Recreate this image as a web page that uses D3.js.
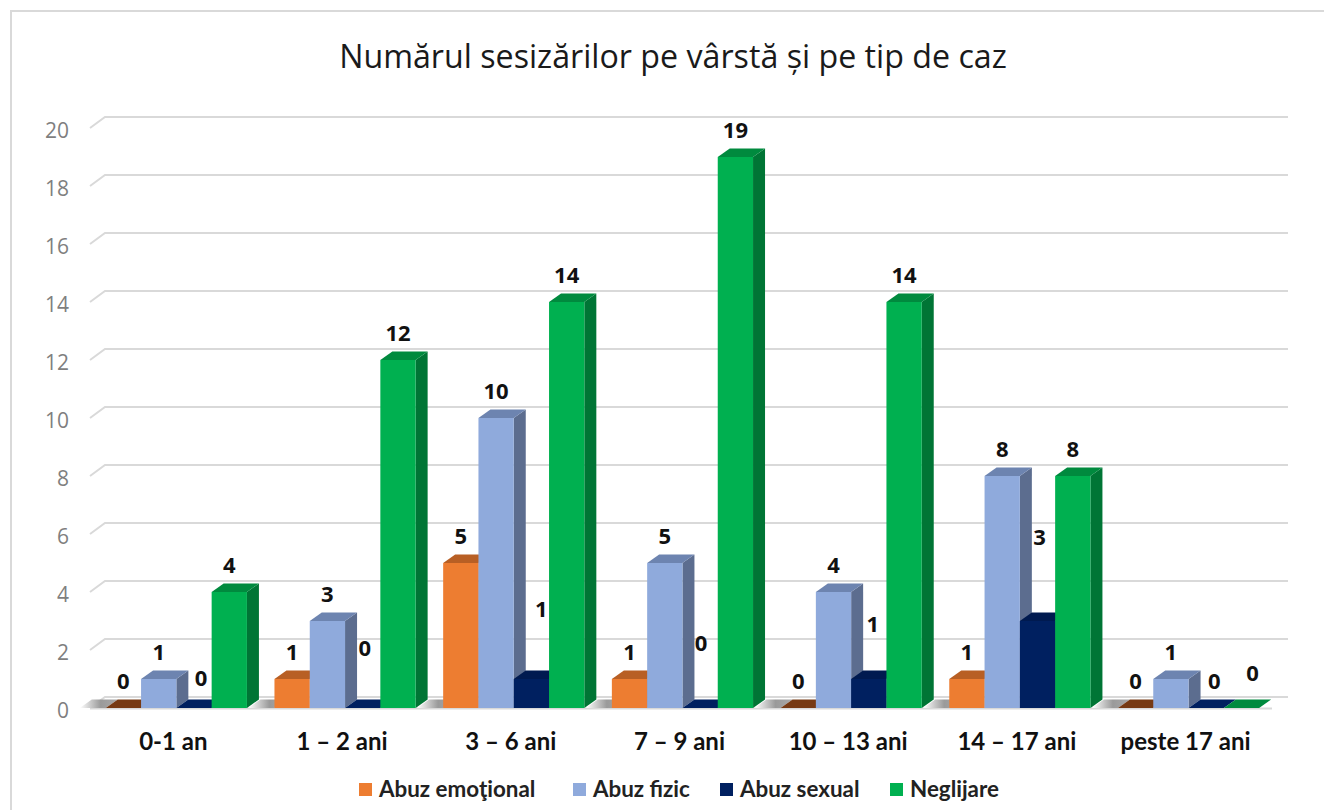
<!DOCTYPE html>
<html>
<head>
<meta charset="utf-8">
<script src="https://cdn.jsdelivr.net/npm/d3@7"></script>
<style>
  body { margin: 0; background: #fff; }
  svg { display: block; }
</style>
</head>
<body>
<div id="chart"></div>
<script>
// data
var categories = ["0-1 an", "1 – 2 ani", "3 – 6 ani", "7 – 9 ani", "10 – 13 ani", "14 – 17 ani", "peste 17 ani"];
var seriesNames = ["Abuz emoţional", "Abuz fizic", "Abuz sexual", "Neglijare"];
var abuzEmotional = [0, 1, 5, 1, 0, 1, 0];
var abuzFizic = [1, 3, 10, 5, 4, 8, 1];
var abuzSexual = [0, 0, 1, 0, 1, 3, 0];
var neglijare = [4, 12, 14, 19, 14, 8, 0];
var seriesValues = [abuzEmotional, abuzFizic, abuzSexual, neglijare];
var yTicks = [0, 2, 4, 6, 8, 10, 12, 14, 16, 18, 20];

// bar faces, per series
var frontColors = ["#ed7d31", "#8faadc", "#002060", "#00b050"];
var topColors = ["#b85f24", "#6d84b0", "#001a50", "#008a3e"];
var sideColors = ["#b05a1f", "#5c6d8f", "#00154a", "#007535"];
var zeroColors = ["#773a14", "#6d84b0", "#002060", "#008a3e"];

// the labels were moved by hand in the original: [dx, dy] from the default spot
var labelShift = {
  "0-2": [7, -3], "1-2": [2, -33], "2-2": [10, -43], "3-2": [1, -38],
  "4-2": [4, -28], "5-2": [2, -57], "6-2": [8, 0], "6-3": [11, -8]
};

var svgWidth = 1324;
var svgHeight = 810;
var depthX = 12;
var depthY = 8.5;
var wallX = 15;
var wallY = 11;

var svg = d3.select("#chart")
  .append("svg")
  .attr("width", svgWidth)
  .attr("height", svgHeight);

// frame, open on the right and at the bottom
svg.append("path")
  .attr("d", "M11,810V11H1324")
  .attr("fill", "none")
  .attr("stroke", "#d9d9d9")
  .attr("stroke-width", 2);

svg.append("text")
  .attr("x", 673)
  .attr("y", 68)
  .attr("text-anchor", "middle")
  .attr("font-family", "Open Sans")
  .attr("font-size", 32.2)
  .attr("fill", "#1a1a1a")
  .text("Numărul sesizărilor pe vârstă și pe tip de caz");

// scales
var xScale = d3.scaleBand().domain(categories).range([92, 1272.9]);
var xInner = d3.scaleBand()
  .domain(d3.range(seriesNames.length))
  .range([0, xScale.bandwidth()])
  .paddingOuter(0.39);
var yScale = d3.scaleLinear().domain([0, 20]).range([708, 128]);

// wall grid: slanted stub on the left, then straight to the back
svg.append("g").selectAll("path")
  .data(yTicks)
  .enter()
  .append("path")
  .attr("d", d => `M90,${yScale(d)}L${90 + wallX},${yScale(d) - wallY}H1288`)
  .attr("fill", "none")
  .attr("stroke", "#d9d9d9")
  .attr("stroke-width", 2);

svg.append("line")
  .attr("x1", 90)
  .attr("x2", 1272)
  .attr("y1", yScale(0) + 0.5)
  .attr("y2", yScale(0) + 0.5)
  .attr("stroke", "#d9d9d9")
  .attr("stroke-width", 2);

// floor shadow in front of each group
var defs = svg.append("defs");
var floorGradient = defs.append("linearGradient").attr("id", "floorShade");
floorGradient.append("stop").attr("offset", "0%").attr("stop-color", "#ffffff");
floorGradient.append("stop").attr("offset", "55%").attr("stop-color", "#9a9a9a");
floorGradient.append("stop").attr("offset", "100%").attr("stop-color", "#a8a8a8");

svg.append("g").selectAll("path")
  .data(categories)
  .enter()
  .append("path")
  .attr("d", function(d) {
    var x0 = xScale(d) + xInner(0);
    var base = yScale(0);
    return `M${x0 - 26},${base}H${x0}l${depthX},${-depthY}H${x0 - 14}Z`;
  })
  .attr("fill", "url(#floorShade)");

// bars, left to right so each front face covers the side of the previous bar
var barsGroup = svg.append("g");
categories.forEach(function(category, i) {
  seriesValues.forEach(function(values, s) {
    var value = values[i];
    var x0 = xScale(category) + xInner(s);
    var w = xInner.bandwidth();
    var top = yScale(value);
    var base = yScale(0);

    if (value > 0) {
      barsGroup.append("path")
        .attr("d", `M${x0 + w},${base}V${top}l${depthX},${-depthY}V${base - depthY}Z`)
        .attr("fill", sideColors[s]);
    }
    barsGroup.append("path")
      .attr("d", `M${x0},${top}h${w}l${depthX},${-depthY}h${-w}Z`)
      .attr("fill", value > 0 ? topColors[s] : zeroColors[s]);
    if (value > 0) {
      barsGroup.append("rect")
        .attr("x", x0)
        .attr("y", top)
        .attr("width", w)
        .attr("height", base - top)
        .attr("fill", frontColors[s]);
    }
  });
});

// data labels
var labelsGroup = svg.append("g")
  .attr("font-family", "Open Sans")
  .attr("font-weight", 700)
  .attr("font-size", 22)
  .attr("fill", "#111")
  .attr("text-anchor", "middle");
categories.forEach(function(category, i) {
  seriesValues.forEach(function(values, s) {
    var shift = labelShift[i + "-" + s] || [0, 0];
    labelsGroup.append("text")
      .attr("x", xScale(category) + xInner(s) + xInner.bandwidth() / 2 + shift[0])
      .attr("y", yScale(values[i]) - 27 + shift[1])
      .attr("dy", "0.36em")
      .text(values[i]);
  });
});

// axes, text only
var leftAxis = d3.axisLeft(yScale).tickValues(yTicks).tickSize(0).tickPadding(21);
var yAxis = svg.append("g")
  .attr("transform", "translate(90,3)")
  .call(leftAxis);
yAxis.select(".domain").remove();
yAxis.selectAll("text")
  .attr("font-family", "Open Sans")
  .attr("font-size", 21)
  .attr("fill", "#7f7f7f");

var bottomAxis = d3.axisBottom(xScale).tickSize(0).tickPadding(0);
var xAxis = svg.append("g")
  .attr("transform", "translate(-3,733)")
  .call(bottomAxis);
xAxis.select(".domain").remove();
xAxis.selectAll("text")
  .attr("font-family", "Lato")
  .attr("font-weight", 700)
  .attr("font-size", 24)
  .attr("fill", "#111");

// legend
var legendX = [359, 573, 720, 890];
var legend = svg.append("g").selectAll("g")
  .data(seriesNames)
  .enter()
  .append("g")
  .attr("transform", (d, i) => `translate(${legendX[i]},783)`);
legend.append("rect")
  .attr("width", 13)
  .attr("height", 13)
  .attr("fill", (d, i) => frontColors[i]);
legend.append("text")
  .attr("x", 20)
  .attr("y", 14)
  .attr("font-family", "Lato")
  .attr("font-weight", 700)
  .attr("font-size", 22.4)
  .attr("fill", "#222")
  .text(d => d);
</script>
</body>
</html>
